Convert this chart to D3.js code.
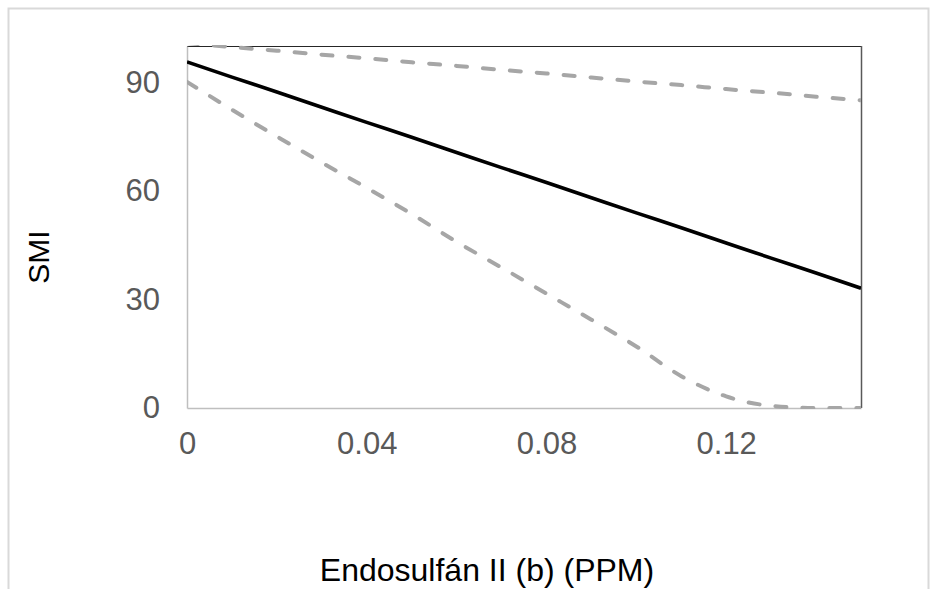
<!DOCTYPE html>
<html>
<head>
<meta charset="utf-8">
<script src="https://cdn.jsdelivr.net/npm/d3@7"></script>
<style>
  html, body { margin: 0; padding: 0; background: #fff; }
  svg { display: block; }
</style>
</head>
<body>
<svg id="chart" width="935" height="589"></svg>
<script>
// ---- data ----
const xValues = [0, 0.01, 0.02, 0.03, 0.04, 0.05, 0.06, 0.07, 0.08, 0.09, 0.10, 0.11, 0.12, 0.13, 0.14, 0.15];
const smiFit   = [95.6, 91.4, 87.3, 83.1, 78.9, 74.8, 70.6, 66.4, 62.3, 58.1, 53.9, 49.8, 45.6, 41.4, 37.3, 33.1];
const upperCI  = [100.8, 99.7, 98.7, 97.6, 96.6, 95.5, 94.5, 93.4, 92.4, 91.3, 90.2, 89.2, 88.1, 87.1, 86.0, 85.0];
const lowerCI  = [90.1, 82.4, 75.0, 67.8, 60.8, 53.6, 45.9, 38.8, 31.6, 24.4, 17.0, 8.8, 3.2, 0.6, 0.0, 0.0];
const xTicks = [0, 0.04, 0.08, 0.12];
const xTickLabels = ["0", "0.04", "0.08", "0.12"];
const yTicks = [0, 30, 60, 90];
const xTitle = "Endosulfán II (b) (PPM)";
const yTitle = "SMI";

// ---- layout ----
const svg = d3.select("#chart");
const L = 187, R = 861, T = 46, B = 408;
const x = d3.scaleLinear().domain([0, 0.15]).range([L, R]);
const y = d3.scaleLinear().domain([0, 100]).range([B, T]);
const FONT = "Liberation Sans, Arial, sans-serif";

// outer border
svg.append("rect")
  .attr("x", 8.5).attr("y", 8.5).attr("width", 920).attr("height", 620)
  .attr("fill", "none").attr("stroke", "#d9d9d9").attr("stroke-width", 2);

// clip
svg.append("clipPath").attr("id", "plotclip")
  .append("rect").attr("x", L).attr("y", T - 1).attr("width", R - L).attr("height", B - T + 2);

// frame: top & right dark
svg.append("line").attr("x1", L).attr("x2", R).attr("y1", T + 0.5).attr("y2", T + 0.5)
  .attr("stroke", "#262626").attr("stroke-width", 1.2);
svg.append("line").attr("x1", R + 0.5).attr("x2", R + 0.5).attr("y1", T).attr("y2", B)
  .attr("stroke", "#595959").attr("stroke-width", 1.5);

// axes
const xAxis = d3.axisBottom(x).tickValues(xTicks)
  .tickFormat((d, i) => xTickLabels[i]).tickSize(0).tickPadding(24);
const gx = svg.append("g").attr("transform", `translate(0,${B})`).call(xAxis);
gx.select(".domain").attr("stroke", "#bfbfbf").attr("stroke-width", 1.5);
gx.selectAll("text").attr("font-family", FONT)
  .attr("font-size", 31).attr("fill", "#595959");

const yAxis = d3.axisLeft(y).tickValues(yTicks).tickSize(0).tickPadding(27);
const gy = svg.append("g").attr("transform", `translate(${L},0)`).call(yAxis);
gy.select(".domain").attr("stroke", "#bfbfbf").attr("stroke-width", 1.5);
gy.selectAll("text").attr("font-family", FONT)
  .attr("font-size", 31).attr("fill", "#595959");

// lines
const plot = svg.append("g").attr("clip-path", "url(#plotclip)");
const mk = vals => d3.line().x((d, i) => x(xValues[i])).y(d => y(d)).curve(d3.curveMonotoneX)(vals);

plot.append("path").attr("d", mk(upperCI)).attr("fill", "none")
  .attr("stroke", "#a6a6a6").attr("stroke-width", 4)
  .attr("stroke-dasharray", "11,16").attr("stroke-linecap", "round");
plot.append("path").attr("d", mk(lowerCI)).attr("fill", "none")
  .attr("stroke", "#a6a6a6").attr("stroke-width", 4)
  .attr("stroke-dasharray", "11,16").attr("stroke-linecap", "round");
plot.append("path").attr("d", mk(smiFit)).attr("fill", "none")
  .attr("stroke", "#000").attr("stroke-width", 3.6);

// titles
svg.append("text").attr("x", 487).attr("y", 581)
  .attr("text-anchor", "middle")
  .attr("font-family", FONT).attr("font-size", 32)
  .attr("fill", "#000").text(xTitle);
svg.append("text")
  .attr("transform", `translate(49,${(T + B) / 2 + 30}) rotate(-90)`)
  .attr("text-anchor", "middle")
  .attr("font-family", FONT).attr("font-size", 30)
  .attr("fill", "#000").text(yTitle);
</script>
</body>
</html>
